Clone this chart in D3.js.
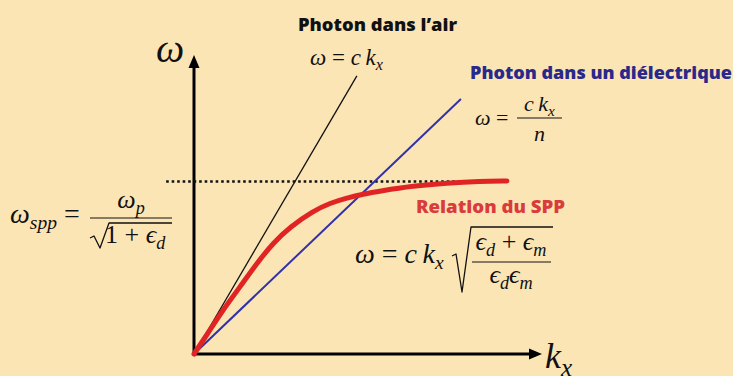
<!DOCTYPE html>
<html>
<head>
<meta charset="utf-8">
<script src="https://cdn.jsdelivr.net/npm/d3@7"></script>
<style>
  body { margin: 0; background: #fce5b5; }
  svg { display: block; }
</style>
</head>
<body>
<div id="container"></div>
<script>
// dispersion curves (arbitrary units : k along x, omega along y)
let airK = [0, 4.68];
let airW = [0, 9.3];
let dielK = [0, 7.67];
let dielW = [0, 8.53];
let sppK = [0, 0.46, 0.83, 1.32, 1.81, 2.27, 2.76, 3.42, 3.91, 4.4, 4.86, 5.34, 6.29, 7.27, 8.22, 8.99];
let sppW = [0, 0.8, 1.47, 2.24, 3.04, 3.71, 4.25, 4.78, 5.05, 5.22, 5.35, 5.45, 5.62, 5.72, 5.78, 5.79];
let wSpp = 5.77;
let asymK = [-0.8, 9.0];
let kMax = 10;
let wMax = 10;

let width = 733, height = 376;
let mathFont = "'Liberation Serif', 'DejaVu Serif', serif";
let titleFont = "'Open Sans', Lato, sans-serif";

let svg = d3.select("#container")
  .append("svg")
  .attr("width", width)
  .attr("height", height);

svg.append("rect").attr("width", width).attr("height", height).attr("fill", "#fce5b5");

let x = d3.scaleLinear().domain([0, kMax]).range([194, 542]);
let y = d3.scaleLinear().domain([0, wMax]).range([354, 55]);

let line = d3.line().x(d => x(d[0])).y(d => y(d[1]));

//Axes with arrow heads
svg.append("line")
  .attr("x1", x(0)).attr("y1", y(0)).attr("x2", x(0)).attr("y2", y(wMax) + 10)
  .attr("stroke", "black").attr("stroke-width", 3);
svg.append("line")
  .attr("x1", x(0) - 1.5).attr("y1", y(0)).attr("x2", x(kMax) - 10).attr("y2", y(0))
  .attr("stroke", "black").attr("stroke-width", 3);
svg.append("path")
  .attr("d", `M${x(0)},${y(wMax)} L${x(0) - 5.5},${y(wMax) + 13} L${x(0) + 5.5},${y(wMax) + 13} Z`)
  .attr("fill", "black");
svg.append("path")
  .attr("d", `M${x(kMax)},${y(0)} L${x(kMax) - 13},${y(0) - 5.5} L${x(kMax) - 13},${y(0) + 5.5} Z`)
  .attr("fill", "black");

//Asymptote omega_spp
svg.append("path")
  .attr("d", line(asymK.map(k => [k, wSpp])))
  .attr("fill", "none").attr("stroke", "#111")
  .attr("stroke-width", 2.6).attr("stroke-dasharray", "2.6 2.9");

//Photon lines
svg.append("path")
  .attr("d", line(airK.map((k, i) => [k, airW[i]])))
  .attr("fill", "none").attr("stroke", "#111").attr("stroke-width", 1.3);
svg.append("path")
  .attr("d", line(dielK.map((k, i) => [k, dielW[i]])))
  .attr("fill", "none").attr("stroke", "#3232a8").attr("stroke-width", 2);

//SPP curve
let sppLine = d3.line().x(d => x(d[0])).y(d => y(d[1])).curve(d3.curveBasis);
svg.append("path")
  .attr("d", sppLine(sppK.map((k, i) => [k, sppW[i]])))
  .attr("fill", "none").attr("stroke", "#e02424")
  .attr("stroke-width", 5).attr("stroke-linecap", "round");

//math text helper : parts = [[string, kind]], kind = "i" italic, "r" roman, "sub" subscript
function mathText(px, py, size, parts, anchor) {
  let t = svg.append("text")
    .attr("x", px).attr("y", py)
    .attr("font-family", mathFont)
    .attr("font-size", size)
    .attr("text-anchor", anchor || "start")
    .attr("fill", "#111");
  let shift = 0;
  parts.forEach(p => {
    let target = p[1] === "sub" ? size * 0.22 : 0;
    let ts = t.append("tspan").text(p[0]).attr("dy", target - shift);
    shift = target;
    if (p[1] === "sub") ts.attr("font-size", size * 0.7).attr("font-style", "italic");
    else if (p[1] === "i") ts.attr("font-style", "italic");
  });
  return t;
}

function rule(x1, x2, yy) {
  svg.append("line").attr("x1", x1).attr("x2", x2).attr("y1", yy).attr("y2", yy)
    .attr("stroke", "#111").attr("stroke-width", 1.2);
}

function radical(x0, yMid, yBot, yTop, xEnd) {
  svg.append("path")
    .attr("d", `M${x0},${yMid + 2} L${x0 + 4},${yMid} L${x0 + 10},${yBot} L${x0 + 19},${yTop} L${xEnd},${yTop}`)
    .attr("fill", "none").attr("stroke", "#111").attr("stroke-width", 1.3)
    .attr("stroke-linejoin", "round");
}

function title(px, py, size, w, color, str) {
  svg.append("text").attr("x", px).attr("y", py)
    .attr("font-family", titleFont).attr("font-weight", 800).attr("font-size", size)
    .attr("textLength", w).attr("lengthAdjust", "spacingAndGlyphs")
    .attr("fill", color).text(str);
}

//Axis labels
mathText(156, 62, 40, [["ω", "i"]]);
mathText(545, 368, 36, [["k", "i"], ["x", "sub"]]);

//Titles
title(298, 31, 17, 159, "#111", "Photon dans l’air");
title(470, 79, 17, 262, "#29298c", "Photon dans un diélectrique");
title(416, 213, 18, 149, "#d93c3a", "Relation du SPP");

let th = "\u2009";

//omega = c kx
mathText(310, 65, 23, [["ω", "i"], [" = ", "r"], ["c", "i"], [th + "k", "i"], ["x", "sub"]]);

//omega = c kx / n
mathText(475, 125, 22, [["ω", "i"], [" =", "r"]]);
rule(517, 562, 118);
mathText(539.5, 111, 22, [["c", "i"], [th + "k", "i"], ["x", "sub"]], "middle");
mathText(539.5, 141, 22, [["n", "i"]], "middle");

//omega_spp
mathText(10, 223, 28, [["ω", "i"], ["spp", "sub"], [" =", "r"]]);
rule(90, 172, 218);
mathText(131, 208, 26, [["ω", "i"], ["p", "sub"]], "middle");
radical(90, 236, 248, 223, 172);
mathText(105, 243, 26, [["1 + ", "r"], ["ϵ", "i"], ["d", "sub"]]);

//SPP dispersion
mathText(355, 263, 28, [["ω", "i"], [" = ", "r"], ["c", "i"], [th + "k", "i"], ["x", "sub"]]);
radical(452, 254, 292, 227, 553);
rule(472, 551, 262);
mathText(511, 250, 26, [["ϵ", "i"], ["d", "sub"], [" + ", "r"], ["ϵ", "i"], ["m", "sub"]], "middle");
mathText(511, 283, 26, [["ϵ", "i"], ["d", "sub"], ["ϵ", "i"], ["m", "sub"]], "middle");
</script>
</body>
</html>
